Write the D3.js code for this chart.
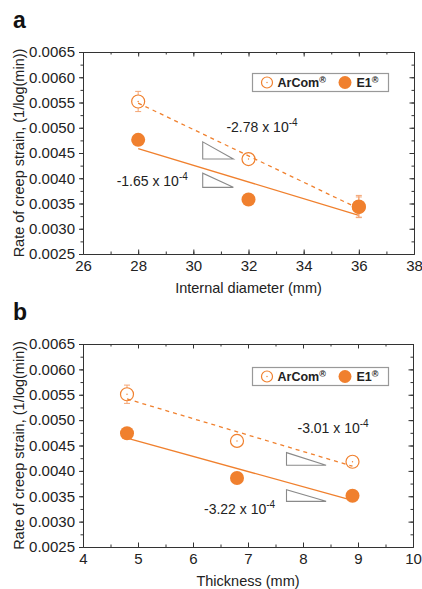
<!DOCTYPE html>
<html>
<head>
<meta charset="utf-8">
<script src="https://cdn.jsdelivr.net/npm/d3@7"></script>
<style>
  body { margin: 0; background: #fff; }
  svg { display: block; font-family: "Liberation Sans", Arial, sans-serif; }
</style>
</head>
<body>
<svg id="chart" width="422" height="589"></svg>
<script>
// panel a: internal diameter
const diamX = [28, 32, 36];
const diamArCom = [0.00552, 0.00438, 0.00343];
const diamArComErr = [0.0002, 0.0001, 0.0002];
const diamE1 = [0.00476, 0.00358, 0.00344];
const diamE1Err = [0.0001, 0.0001, 0.00022];
const diamTicks = [26, 28, 30, 32, 34, 36, 38];
const diamSlopes = ["-2.78", "-1.65"];

// panel b: thickness
const thickX = [4.8, 6.8, 8.9];
const thickArCom = [0.00551, 0.00459, 0.00418];
const thickArComErr = [0.00018, 0.0001, 0.0001];
const thickE1 = [0.00474, 0.00386, 0.00351];
const thickE1Err = [0.0001, 0.0001, 0.0001];
const thickTicks = [4, 5, 6, 7, 8, 9, 10];
const thickSlopes = ["-3.01", "-3.22"];

const yTicks = [0.0025, 0.0030, 0.0035, 0.0040, 0.0045, 0.0050, 0.0055, 0.0060, 0.0065];
const seriesNames = ["ArCom", "E1"];

const orange = "#f0802e";
const axisColor = "#333";

var svg = d3.select("#chart");

function fit(xs, ys) {
  var mx = d3.mean(xs), my = d3.mean(ys);
  var sxy = d3.sum(xs, (x, i) => (x - mx) * (ys[i] - my));
  var sxx = d3.sum(xs, x => (x - mx) * (x - mx));
  var b = sxy / sxx;
  return x => my + b * (x - mx);
}

function drawPanel(p) {
  var g = svg.append("g");
  var x = d3.scaleLinear().domain(d3.extent(p.xTicks)).range([p.left, p.right]);
  var y = d3.scaleLinear().domain([0.0025, 0.0065]).range([p.bottom, p.top]);

  var xMinor = d3.range(p.xTicks[0], p.xTicks[p.xTicks.length - 1] + 1e-9, p.xStep / 2);
  var yMinor = d3.range(0.0025, 0.0065 + 1e-9, 0.00025);

  // minor ticks first
  g.append("g").attr("transform", "translate(0," + p.bottom + ")")
    .call(d3.axisBottom(x).tickValues(xMinor).tickSizeInner(-2.5).tickSizeOuter(0).tickFormat(""));
  g.append("g").attr("transform", "translate(0," + p.top + ")")
    .call(d3.axisTop(x).tickValues(xMinor).tickSizeInner(-2.5).tickSizeOuter(0).tickFormat(""));
  g.append("g").attr("transform", "translate(" + p.left + ",0)")
    .call(d3.axisLeft(y).tickValues(yMinor).tickSizeInner(2.5).tickSizeOuter(0).tickFormat(""));
  g.append("g").attr("transform", "translate(" + p.right + ",0)")
    .call(d3.axisRight(y).tickValues(yMinor).tickSizeInner(-2.5).tickSizeOuter(0).tickFormat(""));

  // major ticks
  g.append("g").attr("class", "lab").attr("transform", "translate(0," + p.bottom + ")")
    .call(d3.axisBottom(x).tickValues(p.xTicks).tickSizeInner(-4.5).tickSizeOuter(0).tickPadding(6).tickFormat(d3.format("d")));
  g.append("g").attr("transform", "translate(0," + p.top + ")")
    .call(d3.axisTop(x).tickValues(p.xTicks).tickSizeInner(-4.5).tickSizeOuter(0).tickFormat(""));
  g.append("g").attr("class", "lab").attr("transform", "translate(" + p.left + ",0)")
    .call(d3.axisLeft(y).tickValues(yTicks).tickSizeInner(4).tickSizeOuter(0).tickPadding(4).tickFormat(d3.format(".4f")));
  g.append("g").attr("transform", "translate(" + p.right + ",0)")
    .call(d3.axisRight(y).tickValues(yTicks).tickSizeInner(-4.5).tickSizeOuter(0).tickFormat(""));

  g.selectAll(".domain, .tick line").attr("stroke", axisColor);
  g.selectAll(".lab text").attr("font-size", 15).attr("fill", "#222")
    .attr("font-family", "Liberation Sans, Arial, sans-serif");

  // titles
  g.append("text")
    .attr("x", (p.left + p.right) / 2).attr("y", p.bottom + 39)
    .attr("text-anchor", "middle").attr("font-size", 14.5).attr("fill", "#222")
    .text(p.xTitle);
  g.append("text")
    .attr("transform", "translate(24," + (p.top + p.bottom) / 2 + ") rotate(-90)")
    .attr("text-anchor", "middle").attr("font-size", 14.5).attr("fill", "#222")
    .text("Rate of creep strain, (1/log(min))");
  g.append("text")
    .attr("x", 13).attr("y", p.top - 24)
    .attr("font-size", 23).attr("font-weight", "bold").attr("fill", "#111")
    .text(p.letter);

  // slope triangles
  p.tri.forEach(t => {
    var x0 = x(t[0]), x1 = x(t[1]), y0 = y(t[2]), y1 = y(t[3]);
    g.append("path")
      .attr("d", "M" + x0 + "," + y0 + "L" + x0 + "," + y1 + "L" + x1 + "," + y1 + "Z")
      .attr("fill", "none").attr("stroke", "#8a8a8a").attr("stroke-width", 1.1);
  });

  // slope labels
  p.slopeLab.forEach((s, i) => {
    var t = g.append("text")
      .attr("x", x(s[0])).attr("y", y(s[1]))
      .attr("font-size", 14).attr("fill", "#222");
    t.append("tspan").text(p.slopes[i] + " x 10");
    t.append("tspan").attr("dy", -6).attr("font-size", 10).text("-4");
  });

  // fit lines
  var xr = d3.extent(p.xs);
  var fA = fit(p.xs, p.arcom), fE = fit(p.xs, p.e1);
  g.append("line")
    .attr("x1", x(xr[0])).attr("y1", y(fA(xr[0])))
    .attr("x2", x(xr[1])).attr("y2", y(fA(xr[1])))
    .attr("stroke", orange).attr("stroke-width", 1.3).attr("stroke-dasharray", "4,4");
  g.append("line")
    .attr("x1", x(xr[0])).attr("y1", y(fE(xr[0])))
    .attr("x2", x(xr[1])).attr("y2", y(fE(xr[1])))
    .attr("stroke", orange).attr("stroke-width", 1.3);

  // error bars + markers
  function points(vals, errs, filled) {
    var r = filled ? 7 : 6.5;
    vals.forEach((v, i) => {
      var cx = x(p.xs[i]), cy = y(v), eTop = y(v + errs[i]), eBot = y(v - errs[i]);
      var eb = g.append("g").attr("stroke", "#f4a574").attr("stroke-width", 1);
      if (cy - eTop > r) {
        eb.append("line").attr("x1", cx).attr("x2", cx).attr("y1", eTop).attr("y2", cy - r);
        eb.append("line").attr("x1", cx).attr("x2", cx).attr("y1", cy + r).attr("y2", eBot);
        eb.append("line").attr("x1", cx - 3).attr("x2", cx + 3).attr("y1", eTop).attr("y2", eTop);
        eb.append("line").attr("x1", cx - 3).attr("x2", cx + 3).attr("y1", eBot).attr("y2", eBot);
      }
      if (filled) {
        g.append("circle").attr("cx", cx).attr("cy", cy).attr("r", r).attr("fill", orange);
      } else {
        g.append("circle").attr("cx", cx).attr("cy", cy).attr("r", r)
          .attr("fill", "none").attr("stroke", orange).attr("stroke-width", 1.2);
        g.append("circle").attr("cx", cx).attr("cy", cy).attr("r", 0.7).attr("fill", orange);
      }
    });
  }
  points(p.arcom, p.arcomErr, false);
  points(p.e1, p.e1Err, true);

  // legend
  var lg = g.append("g").attr("transform", "translate(252," + p.legendY + ")");
  lg.append("rect").attr("x", 0.5).attr("y", -9).attr("width", 136).attr("height", 18)
    .attr("fill", "#fff").attr("stroke", "#999").attr("stroke-width", 1.2);
  lg.append("circle").attr("cx", 15).attr("cy", 0).attr("r", 5.5)
    .attr("fill", "none").attr("stroke", orange).attr("stroke-width", 1.2);
  lg.append("circle").attr("cx", 15).attr("cy", 0).attr("r", 0.7).attr("fill", orange);
  lg.append("circle").attr("cx", 93).attr("cy", 0).attr("r", 6.5).attr("fill", orange);
  [[25.5, seriesNames[0]], [104.5, seriesNames[1]]].forEach(d => {
    var t = lg.append("text").attr("x", d[0]).attr("y", 4.5)
      .attr("font-size", 12.5).attr("font-weight", "bold").attr("fill", "#222");
    t.append("tspan").text(d[1]);
    t.append("tspan").attr("dy", -4).attr("font-size", 9).text("®");
  });
}

drawPanel({
  letter: "a", left: 83, right: 414, top: 52, bottom: 254, legendY: 82.5,
  xTicks: diamTicks, xStep: 2, xTitle: "Internal diameter (mm)",
  xs: diamX, arcom: diamArCom, arcomErr: diamArComErr, e1: diamE1, e1Err: diamE1Err,
  slopes: diamSlopes,
  tri: [[30.34, 31.45, 0.00472, 0.00438], [30.34, 31.45, 0.0041, 0.00382]],
  slopeLab: [[31.2, 0.004906], [27.22, 0.003837]]
});

drawPanel({
  letter: "b", left: 83, right: 413, top: 344, bottom: 547, legendY: 376.5,
  xTicks: thickTicks, xStep: 1, xTitle: "Thickness (mm)",
  xs: thickX, arcom: thickArCom, arcomErr: thickArComErr, e1: thickE1, e1Err: thickE1Err,
  slopes: thickSlopes,
  tri: [[7.70, 8.42, 0.00436, 0.00411], [7.70, 8.42, 0.00363, 0.0034]],
  slopeLab: [[7.90, 0.00474], [6.2, 0.00316]]
});
</script>
</body>
</html>
